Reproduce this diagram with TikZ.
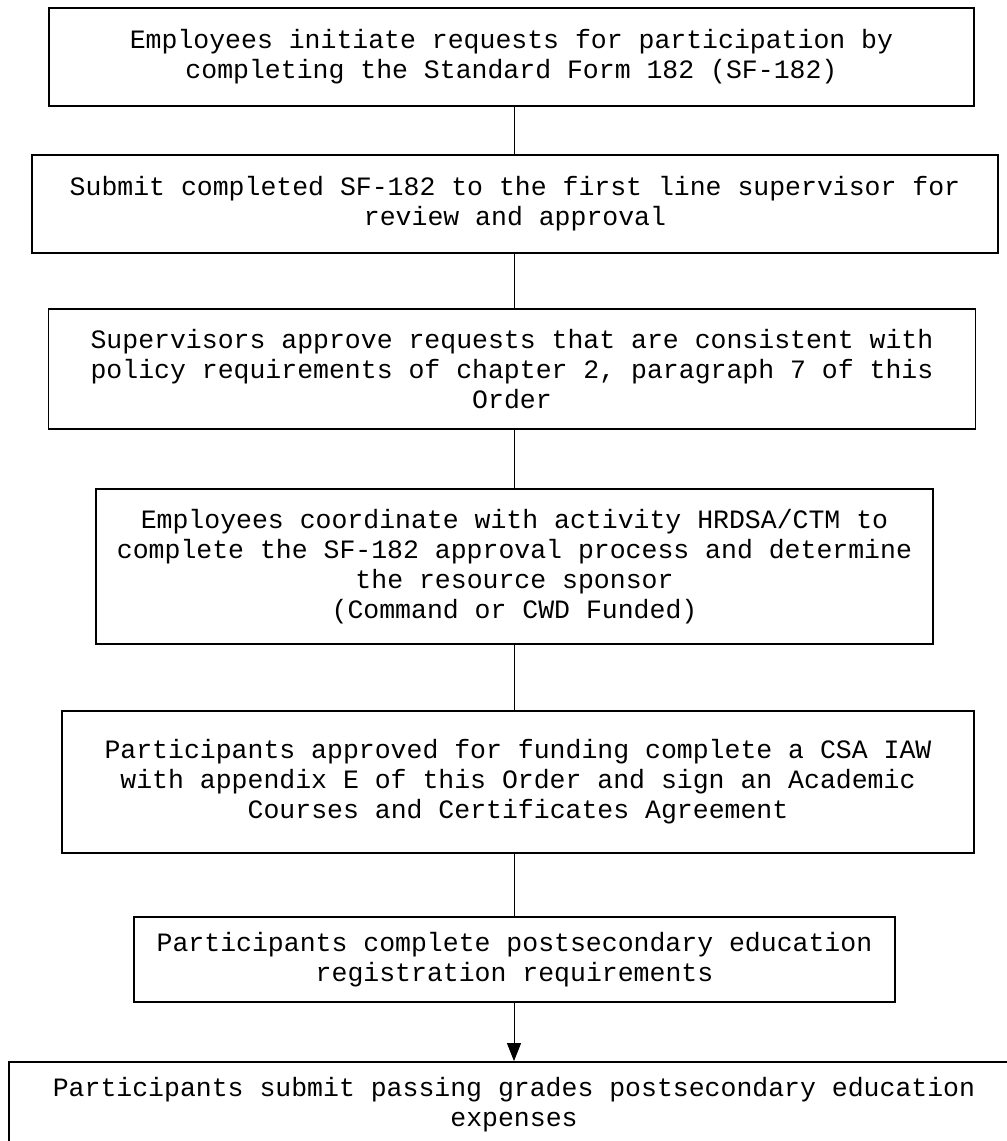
\documentclass[tikz,border=0pt]{standalone}
\usepackage{fontspec}
\newfontfamily\courierfont{Liberation Mono}
\usetikzlibrary{arrows.meta}
\tikzset{
  stepbox/.style={draw, line width=1.8pt, inner sep=0pt, align=center,
    font=\courierfont\fontsize{26.5}{30}\selectfont},
  link/.style={line width=1pt},
}
\begin{document}
\begin{tikzpicture}[x=1pt, y=-1pt]
\useasboundingbox (0,0) rectangle (1007,1141);
\coordinate (spine) at (514,0);
% steps
\node[stepbox, minimum width=925pt, minimum height=98pt] (req) at (511.5,57) {Employees initiate requests for participation by\\completing the Standard Form 182 (SF-182)};
\node[stepbox, minimum width=966pt, minimum height=98pt] (sub) at (515,204) {Submit completed SF-182 to the first line supervisor for\\review and approval};
\node[stepbox, minimum width=927pt, minimum height=120pt] (sup) at (512,369) {Supervisors approve requests that are consistent with\\policy requirements of chapter 2, paragraph 7 of this\\Order};
\node[stepbox, minimum width=837pt, minimum height=155pt] (coo) at (514.5,566.5) {Employees coordinate with activity HRDSA/CTM to\\complete the SF-182 approval process and determine\\the resource sponsor\\(Command or CWD Funded)};
\node[stepbox, minimum width=912pt, minimum height=142pt] (csa) at (518,782) {Participants approved for funding complete a CSA IAW\\with appendix E of this Order and sign an Academic\\Courses and Certificates Agreement};
\node[stepbox, minimum width=761pt, minimum height=85pt] (reg) at (514.5,959.5) {Participants complete postsecondary education\\registration requirements};
\node[stepbox, minimum width=1010pt, minimum height=86pt] (pas) at (514,1105) {Participants submit passing grades postsecondary education\\expenses};
% connectors
\draw[link] (req.south -| spine) -- (sub.north -| spine);
\draw[link] (sub.south -| spine) -- (sup.north -| spine);
\draw[link] (sup.south -| spine) -- (coo.north -| spine);
\draw[link] (coo.south -| spine) -- (csa.north -| spine);
\draw[link] (csa.south -| spine) -- (reg.north -| spine);
\draw[link, -{Triangle[length=18pt, width=14pt]}] (reg.south -| spine) -- (pas.north -| spine);
\end{tikzpicture}
\end{document}
